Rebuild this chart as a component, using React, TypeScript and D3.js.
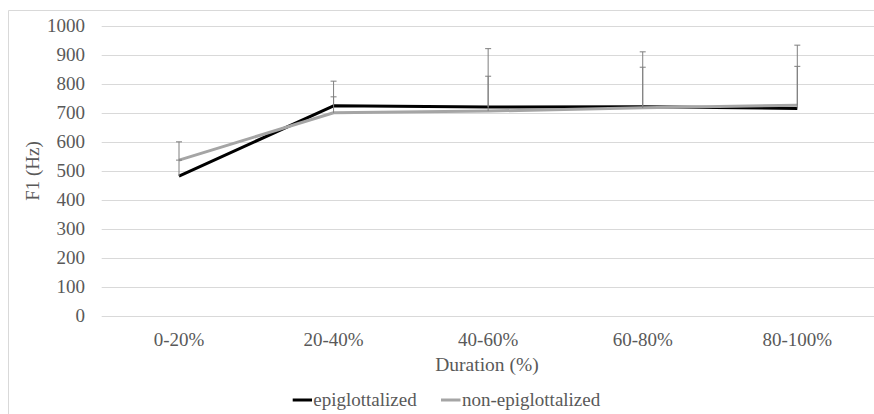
import React from "react";
import * as d3 from "d3";

const categories = ["0-20%", "20-40%", "40-60%", "60-80%", "80-100%"];
const epiglottalized = [483, 725, 721, 722, 716];
const nonEpiglottalized = [538, 701, 707, 718, 727];
const epiErrorPlus = [55, 31, 106, 136, 145];
const nonErrorPlus = [63, 109, 215, 193, 207];
const yTicks = [0, 100, 200, 300, 400, 500, 600, 700, 800, 900, 1000];
const seriesNames = ["epiglottalized", "non-epiglottalized"];

const W = 874;
const H = 414;
const FONT = '"Liberation Serif", "Times New Roman", serif';
const ts = (size: number) => ({ fontFamily: FONT, fontSize: `${size}px` });
const TXT = "#595959";

export default function App() {
  const x = d3.scalePoint<string>().domain(categories).range([179, 797.3]);
  const y = d3.scaleLinear().domain([0, 1000]).range([316.3, 26]);
  const plotLeft = 101.7;
  const plotRight = 874;

  const line = d3
    .line<number>()
    .x((_, i) => x(categories[i]) as number)
    .y((d) => y(d));

  const series = [
    { name: seriesNames[0], values: epiglottalized, err: epiErrorPlus, color: "#000000" },
    { name: seriesNames[1], values: nonEpiglottalized, err: nonErrorPlus, color: "#A5A5A5" },
  ];

  return (
    <svg
      width={W}
      height={H}
      style={{ position: "absolute", left: 0, top: 0, background: "#fff" }}
    >
      <line x1={8.5} y1={10.5} x2={W} y2={10.5} stroke="#D9D9D9" strokeWidth={1} />
      <line x1={8.5} y1={10.5} x2={8.5} y2={H} stroke="#D9D9D9" strokeWidth={1} />
      {yTicks.map((t) => (
        <g key={t}>
          <line
            x1={plotLeft}
            x2={plotRight}
            y1={Math.round(y(t)) + 0.5}
            y2={Math.round(y(t)) + 0.5}
            stroke="#D9D9D9"
            strokeWidth={1}
          />
          <text x={85} y={y(t) + 6} textAnchor="end" style={ts(19)} fill={TXT}>
            {t}
          </text>
        </g>
      ))}
      {categories.map((c) => (
        <text key={c} x={x(c)} y={345.5} textAnchor="middle" style={ts(19)} fill={TXT}>
          {c}
        </text>
      ))}
      <text x={487} y={370.5} textAnchor="middle" style={ts(19.5)} fill={TXT}>
        Duration (%)
      </text>
      <text
        transform={`translate(38.5,171) rotate(-90)`}
        textAnchor="middle"
        style={ts(19)}
        fill={TXT}
      >
        F1 (Hz)
      </text>
      {series.map((s) => (
        <path key={s.name} d={line(s.values) || ""} fill="none" stroke={s.color} strokeWidth={3} strokeLinejoin="round" />
      ))}
      {series.map((s) =>
        s.values.map((v, i) => {
          const cx = x(categories[i]) as number;
          const top = y(v + s.err[i]);
          return (
            <g key={s.name + i} stroke="#7F7F7F" strokeWidth={1}>
              <line x1={cx} x2={cx} y1={y(v)} y2={top} />
              <line x1={cx - 3} x2={cx + 3} y1={top} y2={top} />
            </g>
          );
        })
      )}
      <line x1={292.7} x2={312} y1={400} y2={400} stroke="#000" strokeWidth={3} />
      <text x={313.3} y={405.5} style={ts(19)} fill={TXT}>{seriesNames[0]}</text>
      <line x1={441} x2={460.5} y1={400} y2={400} stroke="#A5A5A5" strokeWidth={3} />
      <text x={462} y={405.5} style={ts(19)} fill={TXT}>{seriesNames[1]}</text>
    </svg>
  );
}
